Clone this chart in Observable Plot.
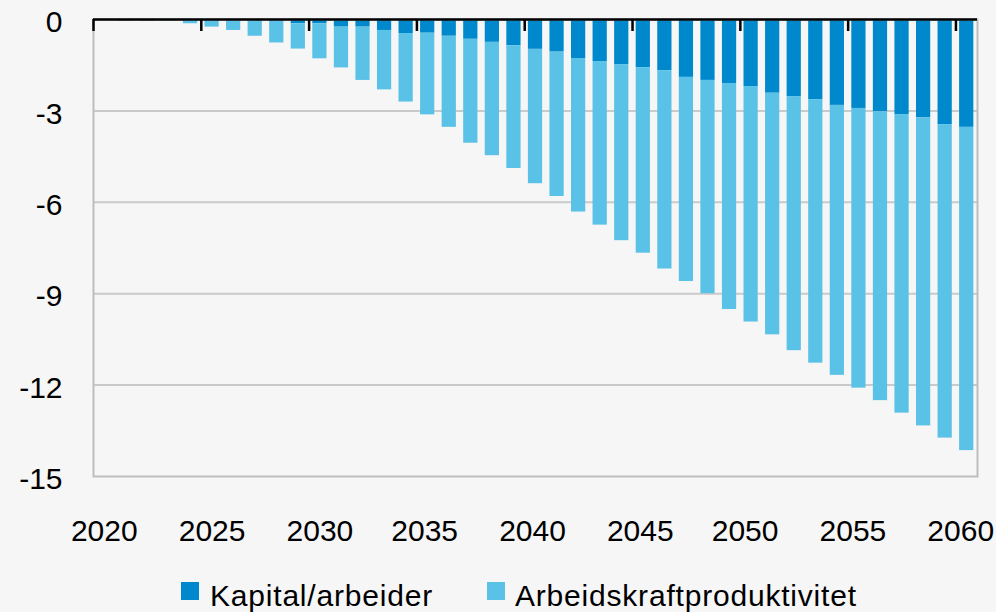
<!DOCTYPE html>
<html>
<head>
<meta charset="utf-8">
<script src="https://cdn.jsdelivr.net/npm/d3@7"></script>
<script src="https://cdn.jsdelivr.net/npm/@observablehq/plot@0.6"></script>
<style>
  html, body { margin: 0; padding: 0; background: #f6f6f6; }
  #chart { width: 996px; }
  .legend { position: relative; width: 996px; height: 52px; font-family: 'Liberation Sans', Arial, sans-serif; font-size: 30px; color: #000; overflow: hidden; }
  .legend .sw { position: absolute; width: 18px; height: 18px; top: 22px; }
  .legend .lb { position: absolute; top: 18px; line-height: 35px; white-space: nowrap; letter-spacing: 0.8px; }
</style>
</head>
<body>
<div id="chart"></div>
<div class="legend">
  <div class="sw" style="left:181px;background:#0088cc"></div>
  <div class="lb" style="left:210px">Kapital/arbeider</div>
  <div class="sw" style="left:487px;background:#5bc2e7"></div>
  <div class="lb" style="left:515px">Arbeidskraftproduktivitet</div>
</div>
<script>
const years = [2020, 2021, 2022, 2023, 2024, 2025, 2026, 2027, 2028, 2029,
  2030, 2031, 2032, 2033, 2034, 2035, 2036, 2037, 2038, 2039,
  2040, 2041, 2042, 2043, 2044, 2045, 2046, 2047, 2048, 2049,
  2050, 2051, 2052, 2053, 2054, 2055, 2056, 2057, 2058, 2059, 2060];
const kapitalArbeider = [0, -0.05, -0.05, -0.04, -0.02, -0.02, -0.02, -0.02, -0.02, -0.14,
  -0.14, -0.25, -0.25, -0.36, -0.46, -0.45, -0.55, -0.65, -0.75, -0.86,
  -0.98, -1.07, -1.28, -1.38, -1.48, -1.58, -1.68, -1.90, -2.00, -2.10,
  -2.20, -2.42, -2.53, -2.63, -2.82, -2.92, -3.03, -3.12, -3.23, -3.45, -3.54];
const arbeidskraftproduktivitet = [0, 0, 0, -0.01, -0.12, -0.23, -0.34, -0.53, -0.75, -0.83,
  -1.15, -1.34, -1.75, -1.95, -2.25, -2.68, -2.99, -3.41, -3.72, -4.03,
  -4.41, -4.74, -5.04, -5.37, -5.78, -6.09, -6.51, -6.70, -7.00, -7.42,
  -7.73, -7.93, -8.34, -8.65, -8.86, -9.18, -9.48, -9.80, -10.11, -10.29, -10.61];
const seriesNames = ["Kapital/arbeider", "Arbeidskraftproduktivitet"];
const seriesColors = ["#0088cc", "#5bc2e7"];
const xTickYears = [2020, 2025, 2030, 2035, 2040, 2045, 2050, 2055, 2060];
const yTicks = [0, -3, -6, -9, -12, -15];
const gridValues = [-3, -6, -9, -12];

const rows = [];
years.forEach((y, i) => {
  rows.push({year: y, series: seriesNames[0], value: kapitalArbeider[i]});
  rows.push({year: y, series: seriesNames[1], value: arbeidskraftproduktivitet[i]});
});

const W = 996, H = 560;
const mL = 93, mR = 19, mT = 19, mB = 84;
const step = (W - mL - mR) / years.length;
const font = "'Liberation Sans', Arial, sans-serif";
const fmt = d => String(d);

// tick labels drift slightly left of the bar centres in the reference
const labelGroups = [
  {years: xTickYears.slice(0, 3), dx: 0},
  {years: xTickYears.slice(3, 6), dx: -3},
  {years: xTickYears.slice(6), dx: -6}
];

const chart = Plot.plot({
  width: W, height: H,
  marginLeft: mL, marginRight: mR, marginTop: mT, marginBottom: mB,
  style: {background: "#f6f6f6", fontFamily: font, fontSize: "30px", color: "#000", overflow: "visible"},
  x: {type: "band", domain: years, paddingInner: 0.34, paddingOuter: 0.17, round: false, label: null},
  y: {domain: [-15, 0], label: null},
  color: {domain: seriesNames, range: seriesColors},
  marks: [
    Plot.ruleY(gridValues, {stroke: "#cacaca", strokeWidth: 2}),
    Plot.barY(rows, {x: "year", y: "value", fill: "series", order: seriesNames}),
    Plot.frame({stroke: "#bdbdbd", strokeWidth: 2}),
    Plot.ruleY([0], {stroke: "#000", strokeWidth: 2.5}),
    Plot.ruleX(xTickYears, {x: d => d, dx: -step / 2, insetBottom: H - mT - mB - 12, stroke: "#000", strokeWidth: 2.5}),
    ...labelGroups.map(g => Plot.axisX(g.years, {anchor: "bottom", tickSize: 0, tickPadding: 43, fontSize: 30, dx: g.dx, tickFormat: fmt, label: null})),
    Plot.axisY(yTicks, {anchor: "left", tickSize: 0, tickPadding: 31, fontSize: 30, dy: 3, tickFormat: fmt, label: null})
  ]
});
document.getElementById("chart").appendChild(chart);
</script>
</body>
</html>
